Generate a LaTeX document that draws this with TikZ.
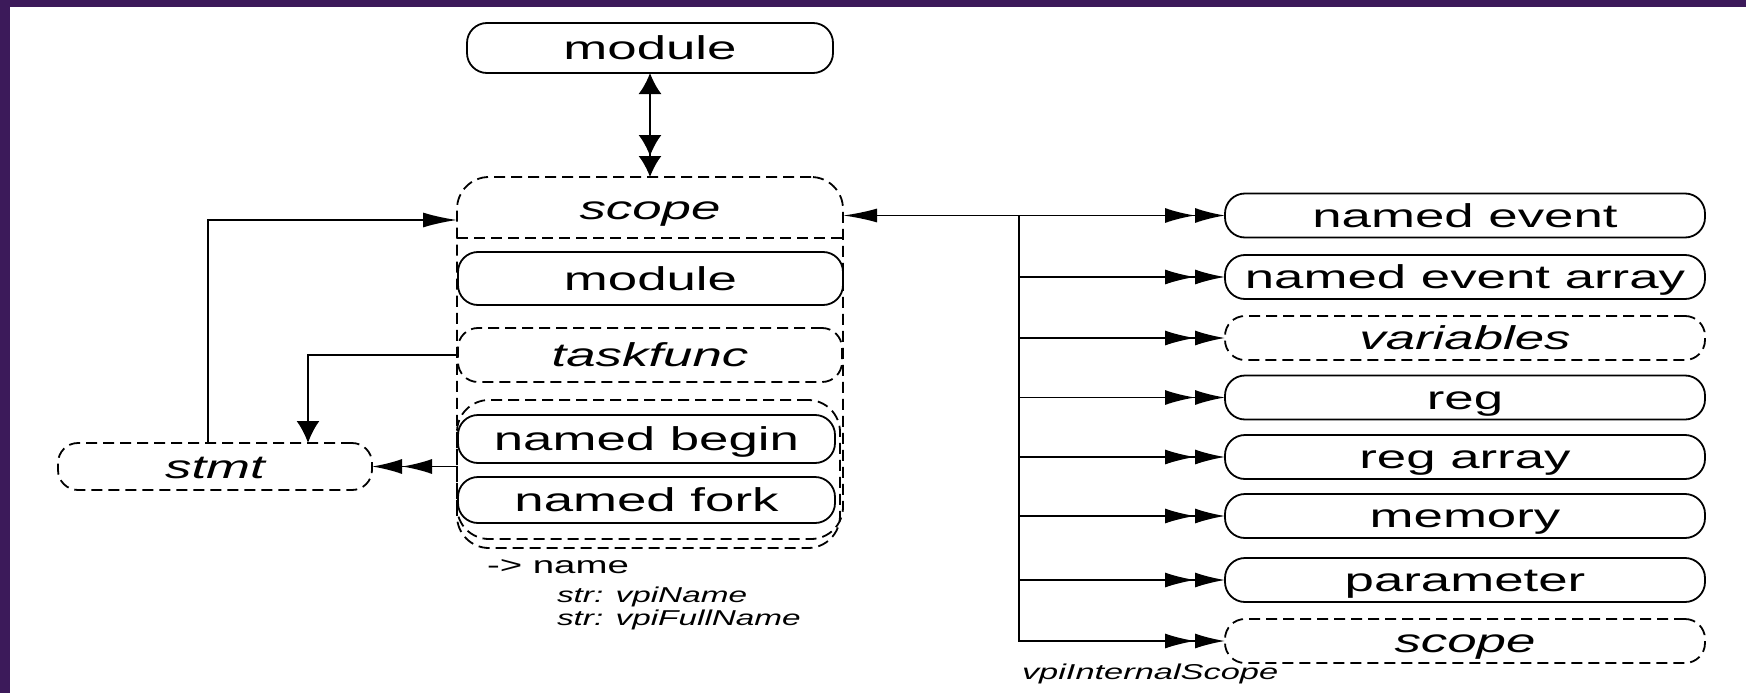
\documentclass[tikz,border=0pt]{standalone}
\usepackage{fontspec}
\setmainfont{Liberation Sans}
\usepackage{graphicx}
\usetikzlibrary{arrows.meta,calc}
\definecolor{framepurple}{RGB}{60,26,90}
\newcommand\hstr[1]{\scalebox{1.6}[1]{#1}}
\newcommand\hstrs[1]{\scalebox{1.55}[1]{#1}}
\begin{document}
\begin{tikzpicture}[x=1pt,y=-1pt,
  every node/.style={inner sep=0pt, outer sep=0pt},
  lw/.style={line width=1.8pt},
  dsh/.style={dash pattern=on 11pt off 6pt},
  box/.style={draw, lw, rounded corners=20pt, minimum height=44pt,
    text height=27pt, text depth=4pt, font=\fontsize{33}{40}\selectfont},
  dbox/.style={box, dsh},
  ibox/.style={dbox, font=\fontsize{33}{40}\selectfont\itshape},
  rbox/.style={box, minimum width=480pt},
  frame/.style={draw, lw, dsh, rounded corners=32pt},
  small/.style={anchor=west, font=\fontsize{21.5}{26}\selectfont\itshape},
  dh/.style={lw, -{Latex[length=30pt,width=15pt] Latex[length=30pt,width=15pt]}}
]
\useasboundingbox (0,0) rectangle (1746,693);
\fill[white] (0,0) rectangle (1746,693);
\fill[framepurple] (0,0) rectangle (1746,7);
\fill[framepurple] (0,0) rectangle (10,693);

% top module
\node[box, minimum width=366pt, minimum height=50pt] (mtop) at (650,48) {\hstr{module}};

% scope container
\node[frame, minimum width=386pt, minimum height=362pt] (scopebox) at (650,358) {};
\node[font=\fontsize{33}{40}\selectfont\itshape, text height=27pt, text depth=4pt] (scopelbl) at (650,208) {\hstr{scope}};
\draw[lw, dsh] ($(scopebox.north west)+(0,61)$) -- ($(scopebox.north east)+(0,61)$);

\node[box, minimum width=385pt, minimum height=53pt] (modin) at (650.5,278.5) {\hstr{module}};
\node[ibox, minimum width=384pt, minimum height=54pt] (taskfunc) at (650,355) {\hstr{taskfunc}};
\node[frame, minimum width=383pt, minimum height=148pt] (grp) at (648.5,474) {};
\node[box, minimum width=377pt, minimum height=48pt] (nbegin) at (646.5,439) {\hstr{named begin}};
\node[box, minimum width=377pt, minimum height=46pt] (nfork) at (646.5,500) {\hstr{named fork}};

% stmt
\node[ibox, minimum width=314pt, minimum height=47pt] (stmt) at (215,466.5) {\hstr{stmt}};

% right column
\node[rbox] (ne)   at (1465,215.5) {\hstr{named event}};
\node[rbox] (nea)  at (1465,277)   {\hstr{named event array}};
\node[rbox, dsh, font=\fontsize{33}{40}\selectfont\itshape] (var) at (1465,338) {\hstr{variables}};
\node[rbox] (reg)  at (1465,397.5) {\hstr{reg}};
\node[rbox] (rega) at (1465,457)   {\hstr{reg array}};
\node[rbox] (mem)  at (1465,516)   {\hstr{memory}};
\node[rbox] (par)  at (1465,580)   {\hstr{parameter}};
\node[rbox, dsh, font=\fontsize{33}{40}\selectfont\itshape] (sc2) at (1465,641) {\hstr{scope}};

% texts
\node[anchor=west, font=\fontsize{24}{28}\selectfont] (nm) at (487,567) {\hstr{-> name}};
\node[small] (vn)  at (557,597) {\hstrs{str: vpiName}};
\node[small] (vfn) at (557,620) {\hstrs{str: vpiFullName}};
\node[small] (vis) at (1022,674) {\hstr{vpiInternalScope}};

% connectors
\draw[lw, {Latex[length=21pt,width=23pt]}-{Latex[length=21pt,width=23pt] Latex[length=21pt,width=23pt]}] (mtop.south) -- (mtop.south |- scopebox.north);
\draw[lw, -{Latex[length=34pt,width=15pt]}] ($(stmt.north)+(-7,0)$) |- ($(scopebox.north west)+(0,43)$);
\draw[lw, -{Latex[length=22pt,width=23pt]}] (taskfunc.west) -| ($(stmt.north)+(93,0)$);
\draw[dh] (grp.west |- stmt.east) -- (stmt.east);

\coordinate (tk) at (1019,215.5);
\draw[lw, {Latex[length=34pt,width=14pt]}-{Latex[length=30pt,width=15pt] Latex[length=30pt,width=15pt]}] (scopebox.east |- ne.west) -- (ne.west);
\draw[dh] (tk) |- (sc2.west);
\foreach \n in {nea,var,reg,rega,mem,par}
  \draw[dh] (tk |- \n.west) -- (\n.west);
\end{tikzpicture}
\end{document}
